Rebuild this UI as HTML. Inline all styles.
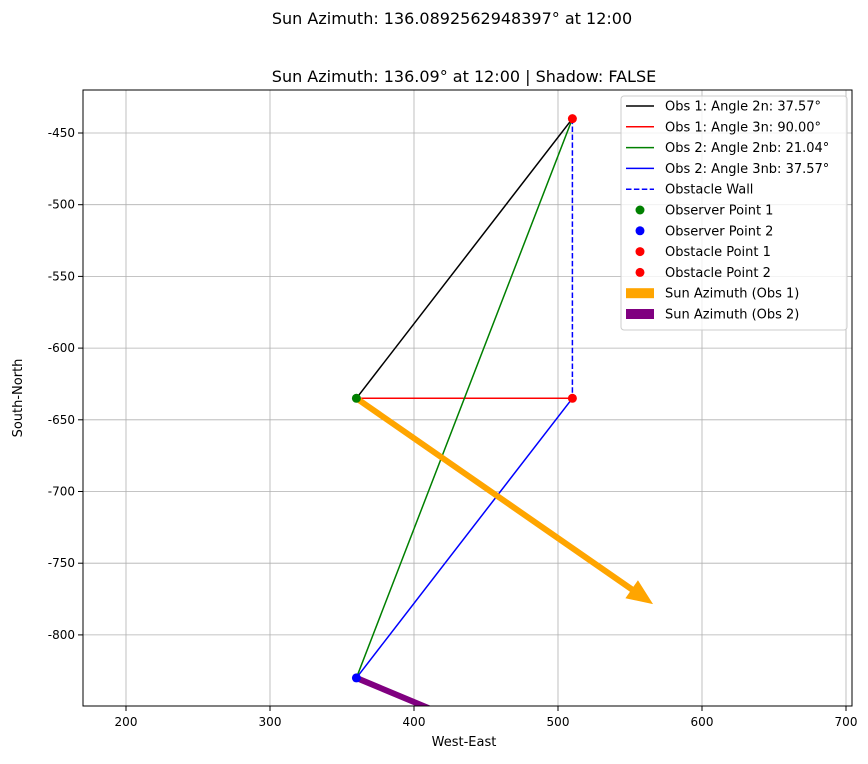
<!DOCTYPE html>
<html><head><meta charset="utf-8"><style>
body{margin:0;background:#fff;font-family:"Liberation Sans","DejaVu Sans",sans-serif}
svg text{font-family:"DejaVu Sans","Liberation Sans",sans-serif}
</style></head><body>
<svg id="c" width="868" height="759" xmlns="http://www.w3.org/2000/svg">
<defs><clipPath id="clip"><rect x="83" y="90" width="769" height="616"/></clipPath></defs>
<text x="452" y="24" font-size="16" text-anchor="middle">Sun Azimuth: 136.0892562948397° at 12:00</text>
<text x="464" y="82" font-size="16" text-anchor="middle">Sun Azimuth: 136.09° at 12:00 | Shadow: FALSE</text>
<g id="grid"></g><g id="marks" clip-path="url(#clip)"></g>
<rect x="83" y="90" width="769" height="616" fill="none" stroke="#000" stroke-width="1"/>
<g id="ticks"></g>
<text x="464" y="746" font-size="13" text-anchor="middle">West-East</text>
<text x="22" y="398" font-size="13" text-anchor="middle" transform="rotate(-90 22 398)">South-North</text>
<g id="legend"></g>
</svg>
<script>
const xTicks=[200,300,400,500,600,700];
const yTicks=[-450,-500,-550,-600,-650,-700,-750,-800];
const lineSeries=[
 {name:"Obs 1: Angle 2n: 37.57°",color:"#000",x:[360,510],y:[-635,-440]},
 {name:"Obs 1: Angle 3n: 90.00°",color:"red",x:[360,510],y:[-635,-635]},
 {name:"Obs 2: Angle 2nb: 21.04°",color:"green",x:[360,510],y:[-830,-440]},
 {name:"Obs 2: Angle 3nb: 37.57°",color:"blue",x:[360,510],y:[-830,-635]},
 {name:"Obstacle Wall",color:"blue",x:[510,510],y:[-440,-635],dash:true}];
const points=[
 {name:"Observer Point 1",color:"green",x:360,y:-635},
 {name:"Observer Point 2",color:"blue",x:360,y:-830},
 {name:"Obstacle Point 1",color:"red",x:510,y:-440},
 {name:"Obstacle Point 2",color:"red",x:510,y:-635}];
const arrows=[
 {name:"Sun Azimuth (Obs 1)",color:"orange",x:[360,566],y:[-635,-778.5]},
 {name:"Sun Azimuth (Obs 2)",color:"purple",x:[360,460],y:[-830,-872]}];
const X=v=>126+(v-200)*1.44, Y=v=>133+(-450-v)*1.434;
const NS="http://www.w3.org/2000/svg";
function mk(p,t,a){const e=document.createElementNS(NS,t);for(const k in a)e.setAttribute(k,a[k]);p.appendChild(e);return e;}
const G=document.getElementById('grid'),T=document.getElementById('ticks'),M=document.getElementById('marks'),L=document.getElementById('legend');
xTicks.forEach(v=>{const x=X(v);
 let g=mk(G,'line',{x1:x,x2:x,y1:90,y2:706,stroke:'#b0b0b0','stroke-width':0.8});
 
 
 mk(T,'line',{x1:x,x2:x,y1:706,y2:711,stroke:'#000'});
 let t=mk(T,'text',{x:x,y:726,'font-size':12,'text-anchor':'middle'});t.textContent=v;
 
 });
yTicks.forEach(v=>{const y=Y(v);
 let g=mk(G,'line',{x1:83,x2:852,y1:y,y2:y,stroke:'#b0b0b0','stroke-width':0.8});
 
 
 mk(T,'line',{x1:78,x2:83,y1:y,y2:y,stroke:'#000'});
 let t=mk(T,'text',{x:75,y:y+4,'font-size':12,'text-anchor':'end'});t.textContent=v;
 
 });
lineSeries.forEach(s=>{let l=mk(M,'line',{x1:X(s.x[0]),y1:Y(s.y[0]),x2:X(s.x[1]),y2:Y(s.y[1]),stroke:s.color,'stroke-width':1.5});
 if(s.dash)l.setAttribute('stroke-dasharray','5.5 2.4');
 
 });
arrows.forEach(a=>{const x0=X(a.x[0]),y0=Y(a.y[0]),x1=X(a.x[1]),y1=Y(a.y[1]);
 const dx=x1-x0,dy=y1-y0,len=Math.hypot(dx,dy),ux=dx/len,uy=dy/len,hl=26,hw=11,w=3;
 const bx=x1-ux*hl,by=y1-uy*hl,px=-uy,py=ux;
 const pts=[[x0+px*w,y0+py*w],[bx+px*w,by+py*w],[bx+px*hw,by+py*hw],[x1,y1],[bx-px*hw,by-py*hw],[bx-px*w,by-py*w],[x0-px*w,y0-py*w]];
 let p=mk(M,'polygon',{points:pts.map(q=>q.join(',')).join(' '),fill:a.color});
 
 });
points.forEach(p=>{let c=mk(M,'circle',{cx:X(p.x),cy:Y(p.y),r:4.5,fill:p.color});
 
 });
let box=mk(L,'rect',{x:621,y:96,width:226,height:234,rx:3,fill:'#fff','fill-opacity':0.8,stroke:'#ccc'});


const entries=[...lineSeries.map(s=>({n:s.name,t:'line',c:s.color,d:s.dash})),...points.map(p=>({n:p.name,t:'pt',c:p.color})),...arrows.map(a=>({n:a.name,t:'patch',c:a.color}))];
entries.forEach((e,i)=>{const y=106+i*20.8;
 const g=mk(L,'g',{});
 
 
 if(e.t==='line'){let l=mk(g,'line',{x1:626,x2:654,y1:y,y2:y,stroke:e.c,'stroke-width':1.5});if(e.d)l.setAttribute('stroke-dasharray','5.5 2.4');}
 else if(e.t==='pt')mk(g,'circle',{cx:640,cy:y,r:4.5,fill:e.c});
 else mk(g,'rect',{x:626,y:y-5,width:28,height:10,fill:e.c});
 let t=mk(g,'text',{x:665,y:y+4.5,'font-size':13});t.textContent=e.n;});
</script>
</body></html>
